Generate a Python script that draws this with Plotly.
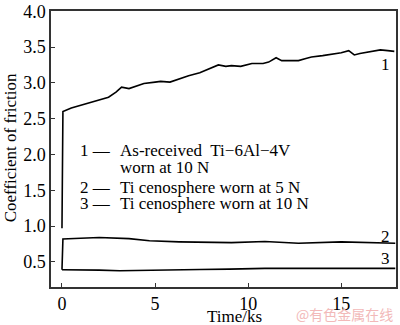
import plotly.graph_objects as go

# Friction coefficient vs sliding time (ks)
t1 = [0, 0.05, 0.5, 1.0, 1.5, 2.0, 2.5, 2.9, 3.2, 3.6, 4.0, 4.4, 5.0, 5.3, 5.8, 6.3,
      6.8, 7.4, 7.9, 8.4, 8.8, 9.1, 9.6, 10.2, 10.8, 11.1, 11.5, 11.8, 12.2, 12.7,
      13.1, 13.4, 14.0, 14.5, 15.0, 15.4, 15.7, 16.0, 16.4, 16.8, 17.1, 17.5, 17.85]
cof1 = [0.97, 2.60, 2.65, 2.69, 2.73, 2.77, 2.80, 2.87, 2.94, 2.92, 2.96, 2.99, 3.01,
        3.02, 3.01, 3.06, 3.10, 3.14, 3.20, 3.25, 3.23, 3.24, 3.23, 3.27, 3.27, 3.29,
        3.35, 3.31, 3.31, 3.31, 3.34, 3.36, 3.38, 3.40, 3.42, 3.45, 3.39, 3.41, 3.43,
        3.44, 3.46, 3.45, 3.44]

t2 = [0, 0.05, 1.0, 2.0, 3.6, 4.7, 6.3, 7.4, 9.1, 10.9, 12.7, 15.0, 17.9]
cof2 = [0.39, 0.82, 0.83, 0.84, 0.826, 0.795, 0.78, 0.78, 0.77, 0.785, 0.76, 0.78, 0.76]

t3 = [0, 1.0, 2.0, 3.1, 5.0, 6.3, 7.4, 9.0, 10.9, 14.2, 17.9]
cof3 = [0.39, 0.39, 0.385, 0.376, 0.38, 0.385, 0.394, 0.40, 0.41, 0.41, 0.41]

legend_nums = ["1 —", "2 —", "3 —"]
legend_text = ["As-received  Ti−6Al−4V", "Ti cenosphere worn at 5 N", "Ti cenosphere worn at 10 N"]
curve_labels = ["1", "2", "3"]

FONT = "Liberation Serif"
LINE = dict(color="black", width=1.6)

fig = go.Figure()
for tx, cy in [(t1, cof1), (t2, cof2), (t3, cof3)]:
    fig.add_trace(go.Scatter(x=tx, y=cy, mode="lines", line=LINE, showlegend=False,
                             hoverinfo="skip"))

ann = []
# in-plot legend text
rows_y = [2.06, 1.544, 1.31]
for num, txt, yy in zip(legend_nums, legend_text, rows_y):
    ann.append(dict(x=0.85, y=yy, text=num, xanchor="left", yanchor="middle",
                    showarrow=False, font=dict(size=17, color="black", family=FONT)))
    ann.append(dict(x=2.99, y=yy, text=txt, xanchor="left", yanchor="middle",
                    showarrow=False, font=dict(size=17, color="black", family=FONT)))
ann.append(dict(x=2.99, y=1.82, text="worn at 10 N", xanchor="left", yanchor="middle",
                showarrow=False, font=dict(size=17, color="black", family=FONT)))

# curve numbers at the right end
for lab, yy in zip(curve_labels, [3.26, 0.86, 0.55]):
    ann.append(dict(x=17.35, y=yy, text=lab, xanchor="center", yanchor="middle",
                    showarrow=False, font=dict(size=17, color="black", family=FONT)))

# axis titles
ann.append(dict(xref="paper", yref="paper", x=0.533, y=-0.106, text="Time/ks",
                xanchor="center", yanchor="middle", showarrow=False,
                font=dict(size=17, color="black", family=FONT)))
ann.append(dict(xref="paper", yref="paper", x=-0.118, y=0.5035,
                text="Coefficient of friction", textangle=-90,
                xanchor="center", yanchor="middle", showarrow=False,
                font=dict(size=17, color="black", family=FONT)))
# site mark
ann.append(dict(xref="paper", yref="paper", x=0.997, y=-0.099, text="@有色金属在线",
                xanchor="right", yanchor="middle", showarrow=False,
                font=dict(size=14, color="#f2b9b9", family="Noto Sans CJK SC")))

axis_common = dict(showgrid=False, zeroline=False, showline=True, linecolor="#333333",
                   linewidth=1.5, mirror=True, ticks="inside", ticklen=4,
                   tickcolor="#333333", tickwidth=1, ticklabeloverflow="allow",
                   tickfont=dict(size=18, color="black", family=FONT))

fig.update_layout(
    width=400, height=325,
    margin=dict(l=51, r=2, t=5, b=38),
    paper_bgcolor="white", plot_bgcolor="white",
    font=dict(family=FONT),
    xaxis=dict(range=[-0.59, 17.94], tickvals=[0, 5, 10, 15], **axis_common),
    yaxis=dict(range=[0.15, 4.003], tickvals=[0.5, 1.0, 1.5, 2.0, 2.5, 3.0, 3.5, 4.0],
               ticktext=["0.5", "1.0", "1.5", "2.0", "2.5", "3.0", "3.5", "4.0"],
               **axis_common),
    annotations=ann,
)

fig.write_html("out.html")
